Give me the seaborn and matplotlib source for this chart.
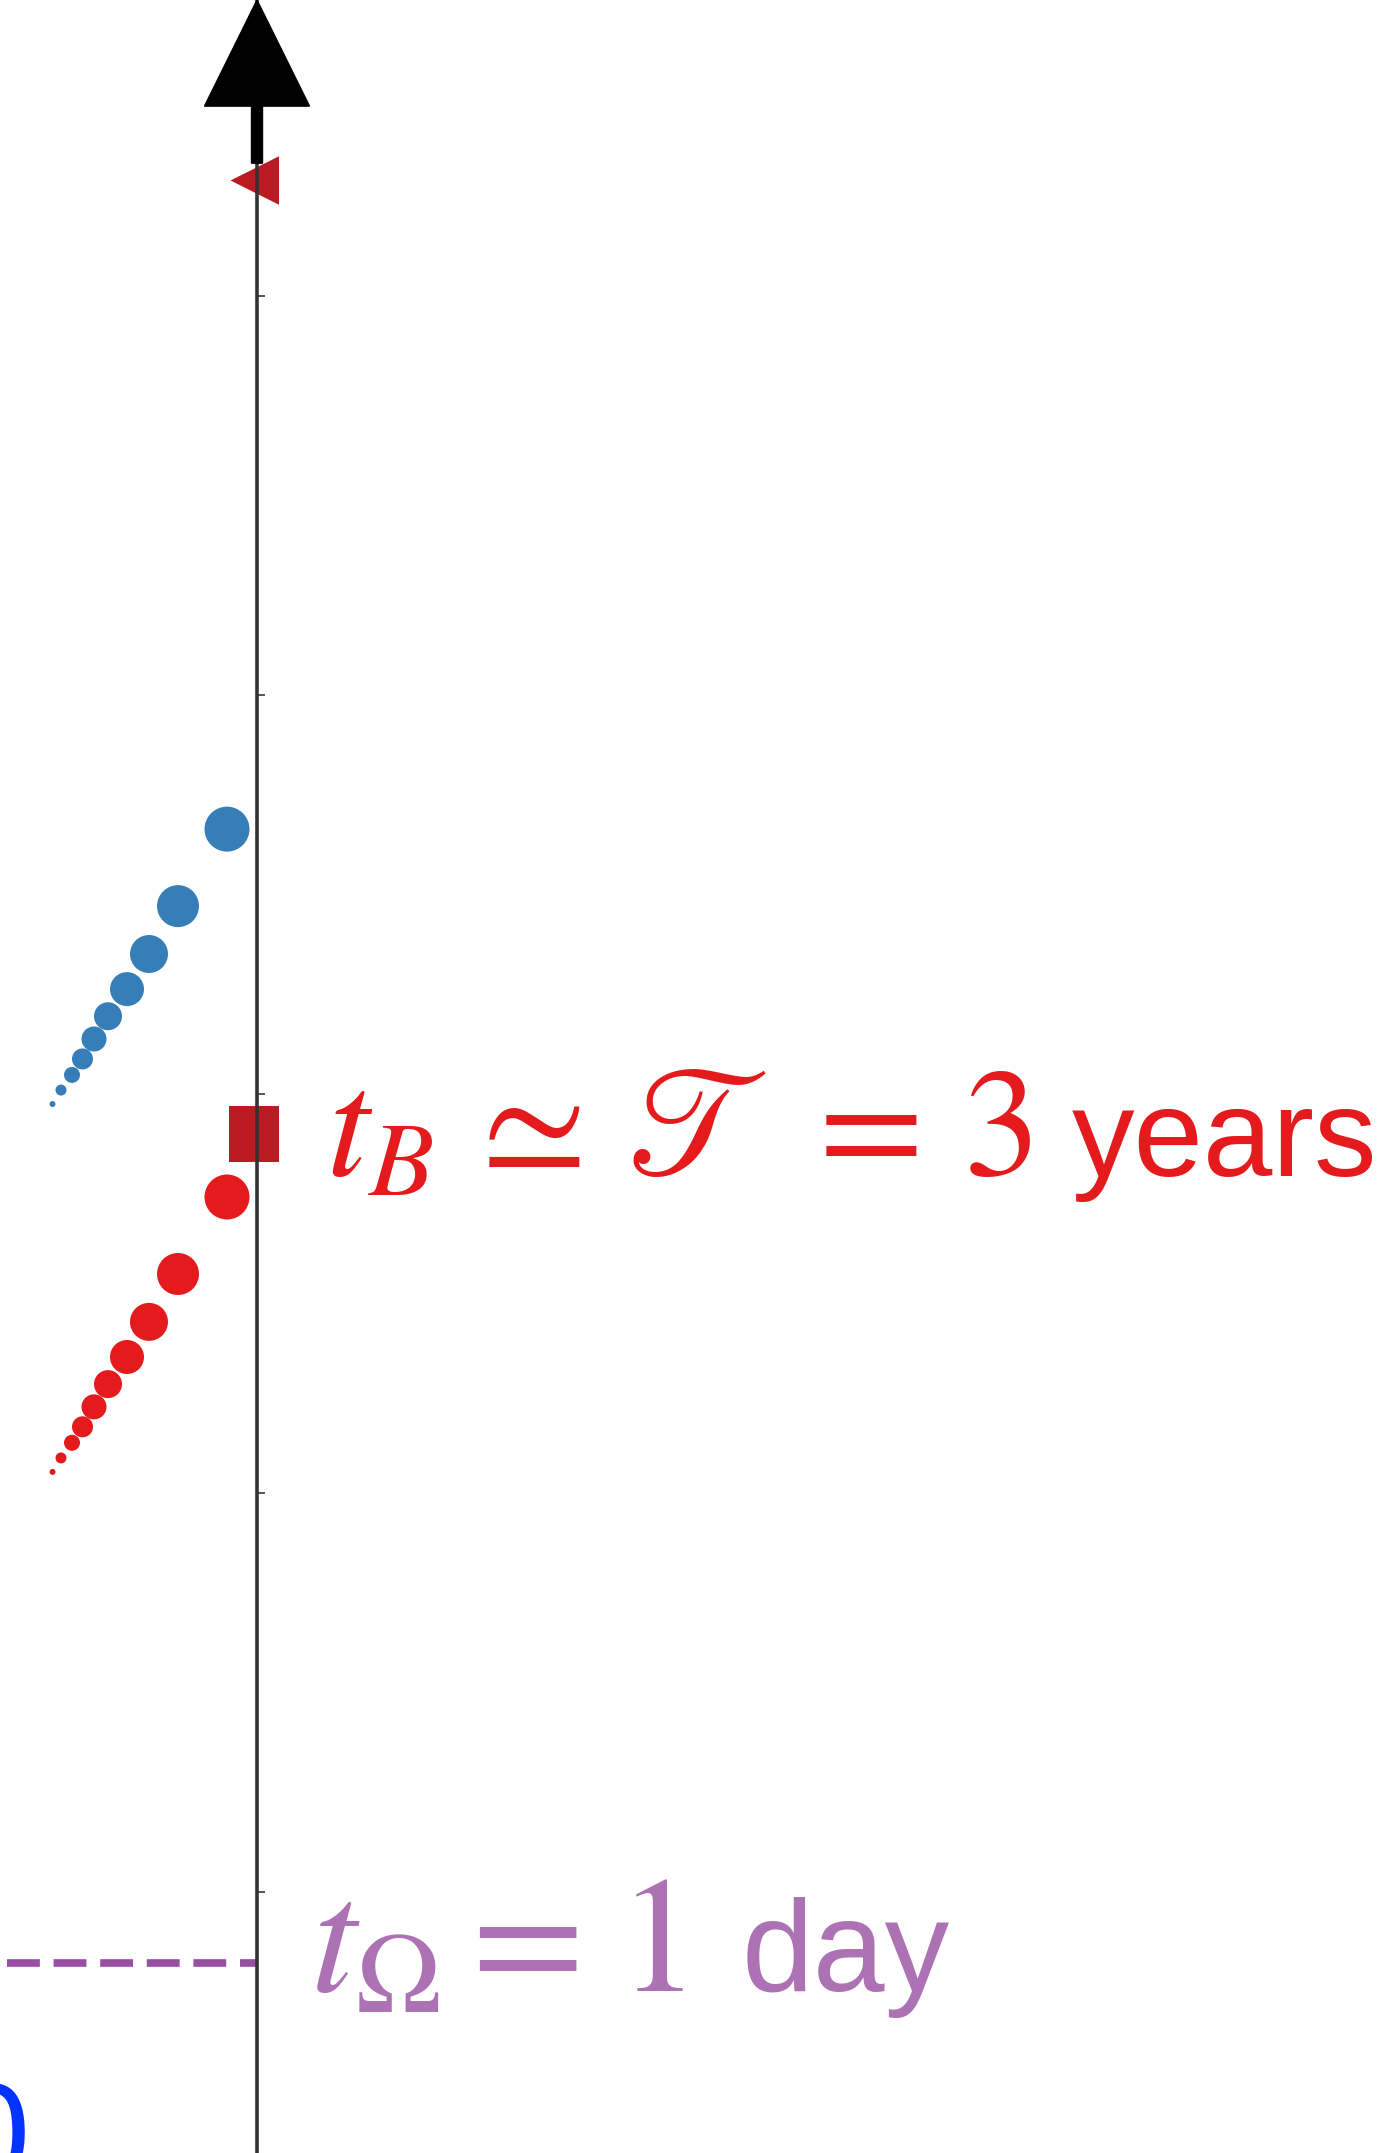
import numpy as np
import pandas as pd
import matplotlib
matplotlib.use("Agg")
import matplotlib.pyplot as plt
import seaborn as sns

# Horizontal position of each stage (axis sits at x = 0)
stage_x = [-0.30, -0.79, -1.08, -1.30, -1.49, -1.63, -1.745, -1.85, -1.96, -2.045]
# Vertical position of the two sequences (one unit per decade tick)
blue_y = [2.664, 2.471, 2.351, 2.263, 2.195, 2.138, 2.088, 2.048, 2.010, 1.975]
red_y = [1.742, 1.549, 1.429, 1.341, 1.273, 1.216, 1.166, 1.126, 1.088, 1.053]
# Relative weight of each stage, shown as marker area
stage_weight = [2025, 1764, 1444, 1156, 784, 625, 441, 256, 121, 36]

# Reference levels on the axis
t_B = 1.90
t_omega = -0.178
upper_limit = 4.29
tick_values = [0, 1, 2, 3, 4]

label_B_math = r"$t_B\,\simeq\,\mathscr{T}\;=\,3$"
label_B_unit = "years"
label_omega_math = r"$t_\Omega = \hspace{0.08}1$"
label_omega_unit = "day"
corner_label = "0"

BLUE = "#377eb8"
RED = "#e41a1c"
DARK_RED = "#bb1a22"
PURPLE = "#984ea3"
LIGHT_PURPLE = "#ac72b4"

sns.set_style("white")
plt.rcParams["font.family"] = ["Liberation Sans", "DejaVu Sans"]
plt.rcParams["mathtext.fontset"] = "stix"

W, H = 1384, 2153
fig = plt.figure(figsize=(W / 100, H / 100), dpi=100)
ax = fig.add_axes([0, 0, 278 / W, 1])
ax.set_xlim(-2.57, 0.21)
ax.set_ylim(-0.654, 4.742)

blue_df = pd.DataFrame({"x": stage_x, "y": blue_y, "w": stage_weight})
red_df = pd.DataFrame({"x": stage_x, "y": red_y, "w": stage_weight})

area_per_weight = 0.5184
size_range = (area_per_weight * min(stage_weight), area_per_weight * max(stage_weight))
size_norm = (min(stage_weight), max(stage_weight))

sns.scatterplot(data=blue_df, x="x", y="y", size="w", sizes=size_range,
                size_norm=size_norm, color=BLUE, linewidth=0, legend=False, ax=ax)
sns.scatterplot(data=red_df, x="x", y="y", size="w", sizes=size_range,
                size_norm=size_norm, color=RED, linewidth=0, legend=False, ax=ax)

# markers sitting on the axis
sns.scatterplot(x=[0], y=[t_B], marker="s", s=1600, color=DARK_RED,
                linewidth=0, legend=False, ax=ax, zorder=2)
sns.scatterplot(x=[0], y=[upper_limit], marker="<", s=1510, color=DARK_RED,
                linewidth=0, legend=False, ax=ax, zorder=2)

# rotation time level
ax.hlines(t_omega, -2.50, 0, colors=PURPLE, linewidth=5.5,
          linestyles=(0, (4.3, 1.8)), zorder=2)

# the vertical axis with its ticks
for side in ["left", "top", "bottom"]:
    ax.spines[side].set_visible(False)
ax.spines["right"].set_position(("data", 0))
ax.spines["right"].set_linewidth(2.6)
ax.spines["right"].set_color("#333333")
ax.spines["right"].set_zorder(3)
ax.set_xticks([])
ax.set_yticks(tick_values)
ax.yaxis.tick_right()
ax.tick_params(axis="y", direction="out", length=6, width=1.4,
               colors="#555555", labelright=False)
ax.set_xlabel("")
ax.set_ylabel("")
ax.patch.set_alpha(0)

# arrow head on top of the axis
ax.arrow(0, 4.333, 0, 4.742 - 4.333, width=0.11, head_width=1.05,
         head_length=0.266, length_includes_head=True, color="black",
         clip_on=False, zorder=5)


def fig_xy(px, py):
    return px / W, 1 - py / H


fig.text(*fig_xy(326, 1176), label_B_math, color=RED, fontsize=110,
         ha="left", va="baseline")
fig.text(*fig_xy(1072, 1176), label_B_unit, color=RED, fontsize=90,
         ha="left", va="baseline")
fig.text(*fig_xy(310, 1991), label_omega_math, color=LIGHT_PURPLE, fontsize=118,
         ha="left", va="baseline")
fig.text(*fig_xy(742, 1991), label_omega_unit, color=LIGHT_PURPLE, fontsize=93,
         ha="left", va="baseline")
fig.text(*fig_xy(30, 2181), corner_label, color="#0433ff", fontsize=100,
         ha="right", va="baseline")

fig.savefig("out.png", dpi=100)
